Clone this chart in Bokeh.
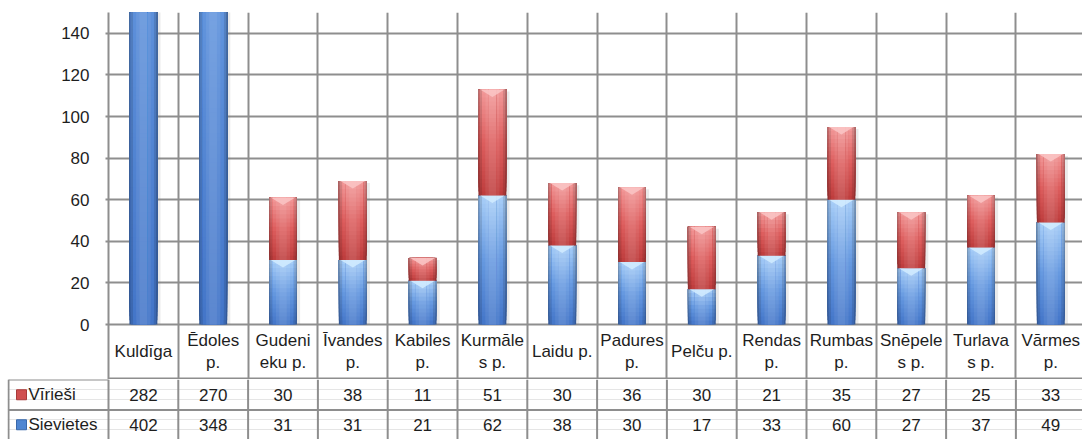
import math
from bokeh.plotting import figure
from bokeh.layouts import column
from bokeh.models import Range1d, FixedTicker, Grid, ColumnDataSource
from bokeh.core.properties import value
from bokeh.embed import file_html
from bokeh.resources import INLINE

# ---------------- data ----------------
categories = ["Kuldīga", "Ēdoles p.", "Gudenieku p.", "Īvandes p.", "Kabiles p.",
              "Kurmāles p.", "Laidu p.", "Padures p.", "Pelču p.", "Rendas p.",
              "Rumbas p.", "Snēpeles p.", "Turlavas p.", "Vārmes p."]
category_labels = ["Kuldīga", "Ēdoles\np.", "Gudeni\neku p.", "Īvandes\np.", "Kabiles\np.",
                   "Kurmāle\ns p.", "Laidu p.", "Padures\np.", "Pelču p.", "Rendas\np.",
                   "Rumbas\np.", "Snēpele\ns p.", "Turlava\ns p.", "Vārmes\np."]
virriesi = [282, 270, 30, 38, 11, 51, 30, 36, 30, 21, 35, 27, 25, 33]
sievietes = [402, 348, 31, 31, 21, 62, 38, 30, 17, 33, 60, 27, 37, 49]
series_names = ["Vīrieši", "Sievietes"]
y_ticks = [0, 20, 40, 60, 80, 100, 120, 140]

# ---------------- style / layout ----------------
FONT = "Liberation Sans"
FS = "17px"
TXT = "#1e1e1e"
GRID = "#8e8e8e"
N = len(categories)
PX = 69.8                      # px per category column
XEND = 974.0 / PX              # chart frame 108 .. 1082
LEFT = XEND - 1075.0 / PX      # table frame 7 .. 1082
YPX = 2.08                     # px per value unit
Y_TOP = 150
Y_BOT = Y_TOP - 367.0 / YPX    # chart frame 12 .. 379 (includes header row)
HEAD = -54.0 / YPX
BAR_W = 0.40
centers = [i + 0.5 for i in range(N)]
bounds = list(range(N + 1))

BLUE_STOPS = [(0.0, "#4375c8"), (0.5, "#6699e0"), (1.0, "#a9cff8")]
RED_STOPS = [(0.0, "#bd3c3c"), (0.5, "#dd5e5e"), (1.0, "#f29a9a")]
LAYERS = [(1.0, -0.25), (0.9, -0.12), (0.74, 0.0), (0.5, 0.07), (0.26, 0.13)]


def hx(c):
    return tuple(int(c[i:i + 2], 16) for i in (1, 3, 5))


def tohex(c):
    return "#%02x%02x%02x" % tuple(int(round(max(0, min(255, v)))) for v in c)


def mix(a, b, t):
    return tuple(a[i] + (b[i] - a[i]) * t for i in range(3))


def interp(stops, f):
    for (p0, c0), (p1, c1) in zip(stops[:-1], stops[1:]):
        if p0 <= f <= p1:
            return mix(hx(c0), hx(c1), (f - p0) / (p1 - p0))
    return hx(stops[-1][1])


def shade(c, s):
    return mix(c, (0, 0, 0), -s) if s < 0 else mix(c, (255, 255, 255), s)


def gradient_quads(xs, bottoms, tops, stops):
    """Layer-major nested bands: each band runs from its bottom to the segment top."""
    d = dict(left=[], right=[], bottom=[], top=[], color=[])
    for wf, s in LAYERS:
        for xc, b, t in zip(xs, bottoms, tops):
            K = max(8, int(math.ceil((t - b) / 2.0)))
            for k in range(K):
                y0 = b + (t - b) * k / K
                if y0 > Y_TOP:
                    break
                base = interp(stops, (k + 0.5) / K)
                d["left"].append(xc - BAR_W * wf / 2)
                d["right"].append(xc + BAR_W * wf / 2)
                d["bottom"].append(y0)
                d["top"].append(t)
                d["color"].append(tohex(shade(base, s)))
    return ColumnDataSource(d)


# ---------------- chart (with header row) ----------------
p1 = figure(width=1082, height=379, x_range=Range1d(0, XEND), y_range=Range1d(Y_BOT, Y_TOP),
            output_backend="svg", toolbar_location=None, x_axis_location=None,
            min_border_left=108, min_border_right=0, min_border_top=12, min_border_bottom=0,
            outline_line_color=None, background_fill_color="white", frame_align=False)

p1.yaxis.ticker = FixedTicker(ticks=y_ticks)
p1.yaxis.major_label_text_font = FONT
p1.yaxis.major_label_text_font_size = FS
p1.yaxis.major_label_text_color = TXT
p1.yaxis.axis_line_color = GRID
p1.yaxis.axis_line_width = 2
p1.yaxis.major_tick_line_color = GRID
p1.yaxis.major_tick_line_width = 2
p1.yaxis.major_tick_in = 0
p1.yaxis.major_tick_out = 3
p1.yaxis.minor_tick_line_color = None
p1.yaxis.major_label_standoff = 16
p1.ygrid.grid_line_color = GRID
p1.ygrid.grid_line_width = 2
p1.add_layout(Grid(dimension=0, ticker=FixedTicker(ticks=bounds),
                   grid_line_color=GRID, grid_line_width=2))

blue_bottom = [0] * N
blue_top = list(sievietes)
red_bottom = list(sievietes)
red_top = [s + v for s, v in zip(sievietes, virriesi)]

# soft shadow
p1.quad(left=[c - BAR_W / 2 + 0.045 for c in centers], right=[c + BAR_W / 2 + 0.045 for c in centers],
        bottom=[0] * N, top=[t - 1.0 for t in red_top], fill_color="#7a7a7a", fill_alpha=0.16,
        line_color=None)

p1.quad(left="left", right="right", bottom="bottom", top="top", fill_color="color",
        line_color=None, source=gradient_quads(centers, blue_bottom, blue_top, BLUE_STOPS))
p1.quad(left="left", right="right", bottom="bottom", top="top", fill_color="color",
        line_color=None, source=gradient_quads(centers, red_bottom, red_top, RED_STOPS))

# chevron highlights at segment tops
dep = 3.6
p1.patches(xs=[[c - BAR_W * 0.44, c + BAR_W * 0.44, c] for c in centers],
           ys=[[t, t, t - dep] for t in blue_top], fill_color="#d2ecff", fill_alpha=0.85,
           line_color=None)
p1.patches(xs=[[c - BAR_W * 0.44, c + BAR_W * 0.44, c] for c in centers],
           ys=[[t, t, t - dep] for t in red_top], fill_color="#fac6c6", fill_alpha=0.85,
           line_color=None)

# header row of the data table (category names)
p1.segment(x0=[0], y0=[HEAD], x1=[XEND], y1=[HEAD], line_color=GRID, line_width=2)
p1.text(x=centers, y=[HEAD / 2] * N, text=category_labels, text_font=value(FONT),
        text_font_size=FS, text_color=TXT, text_align="center", text_baseline="middle",
        text_line_height=1.18)

# ---------------- data rows ----------------
p2 = figure(width=1082, height=60, x_range=Range1d(LEFT, XEND), y_range=Range1d(-60, 0),
            output_backend="svg", toolbar_location=None, x_axis_location=None,
            y_axis_location=None, min_border_left=7, min_border_right=0, min_border_top=0,
            min_border_bottom=0, outline_line_color=None, background_fill_color="white",
            frame_align=False)

ROW_MID = -30.5
left_edge = LEFT + 1.0 / PX
x0 = bounds + [left_edge, left_edge, left_edge]
y0 = [0] * len(bounds) + [0, ROW_MID, 0]
x1 = bounds + [left_edge, XEND, 0]
y1 = [-60] * len(bounds) + [-60, ROW_MID, 0]
p2.segment(x0=x0, y0=y0, x1=x1, y1=y1, line_color=GRID, line_width=2)

row_y = [ROW_MID / 2, (ROW_MID - 60) / 2]
p2.text(x=centers, y=[row_y[0]] * N, text=[str(v) for v in virriesi],
        text_font=value(FONT), text_font_size=FS, text_color=TXT, text_align="center",
        text_baseline="middle")
p2.text(x=centers, y=[row_y[1]] * N, text=[str(v) for v in sievietes],
        text_font=value(FONT), text_font_size=FS, text_color=TXT, text_align="center",
        text_baseline="middle")

p2.scatter(x=[LEFT + 14.0 / PX] * 2, y=row_y, marker="square", size=10,
           fill_color=["#d05050", "#4f86d2"], line_color=["#a83a3a", "#3a68aa"], line_width=1)
p2.text(x=[LEFT + 21.0 / PX] * 2, y=row_y, text=series_names, text_font=value(FONT),
        text_font_size=FS, text_color=TXT, text_align="left", text_baseline="middle")

layout = column(p1, p2, spacing=0)
open("out.html", "w").write(file_html(layout, INLINE))
